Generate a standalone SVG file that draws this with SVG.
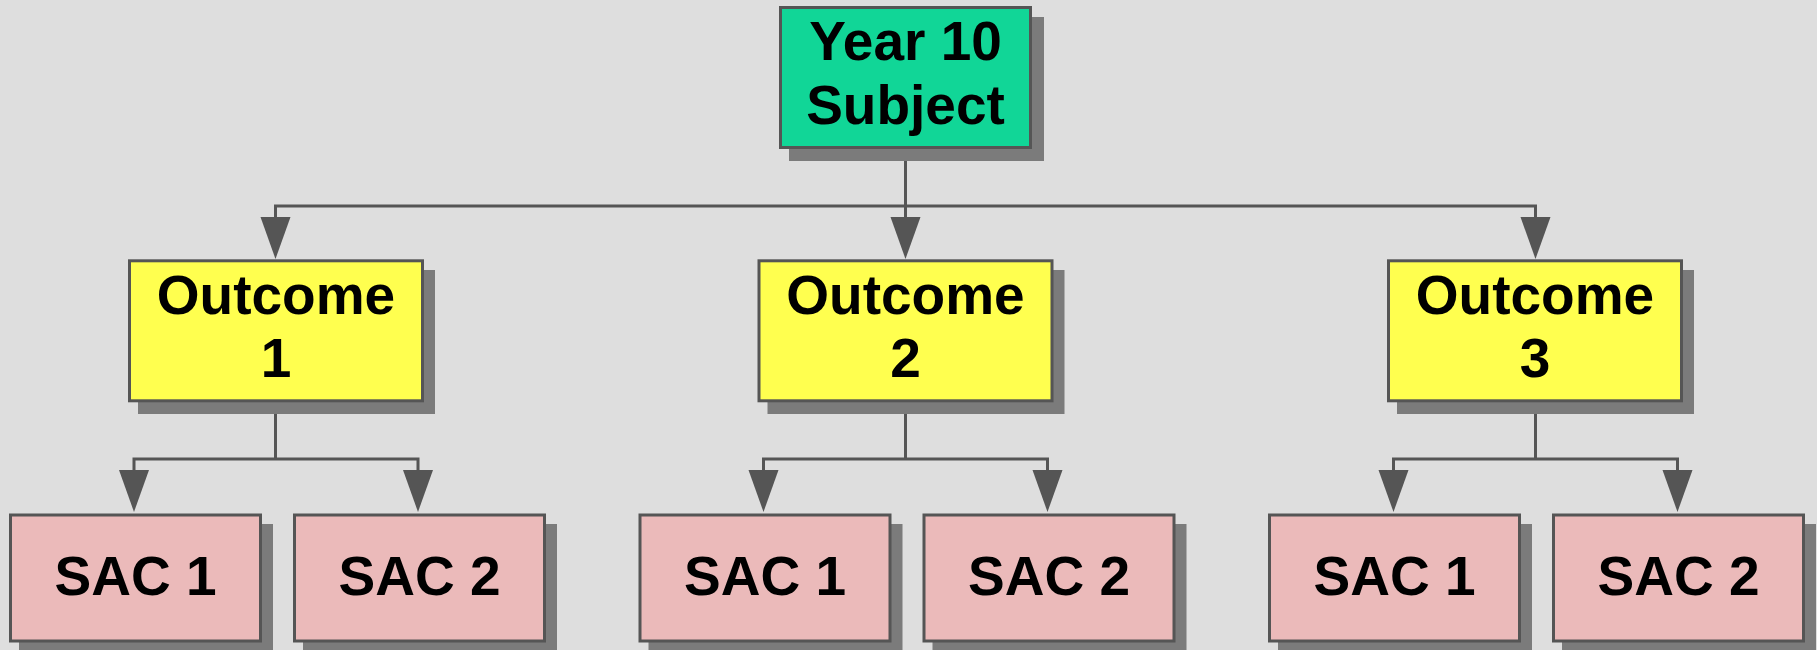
<svg xmlns="http://www.w3.org/2000/svg" width="1817" height="650" viewBox="0 0 1817 650">
<style>
.bg{fill:#dedede}
.sh{fill:#7b7b7b}
.box{stroke:#555555;stroke-width:3}
.top{fill:#11d697}
.out{fill:#ffff4f}
.sac{fill:#ebbaba}
.t{font-family:"Liberation Sans",Arial,sans-serif;font-weight:bold;font-size:55px;fill:#000;text-anchor:middle}
.ln{fill:none;stroke:#555555;stroke-width:3}
.ah{fill:#555555}
</style>
<rect class="bg" x="0" y="0" width="1817" height="650"/>
<g id="connectors">
  <path class="ln" d="M905.5 149 V217 M275.5 217 V206 H1535.5 V217"/>
  <polygon class="ah" points="260.5,217 290.5,217 275.5,259"/>
  <polygon class="ah" points="890.5,217 920.5,217 905.5,259"/>
  <polygon class="ah" points="1520.5,217 1550.5,217 1535.5,259"/>
  <path class="ln" d="M275.5 402 V459 M134 470 V459 H418 V470"/>
  <polygon class="ah" points="119,470 149,470 134,512"/>
  <polygon class="ah" points="403,470 433,470 418,512"/>
  <path class="ln" d="M905.5 402 V459 M763.5 470 V459 H1047.5 V470"/>
  <polygon class="ah" points="748.5,470 778.5,470 763.5,512"/>
  <polygon class="ah" points="1032.5,470 1062.5,470 1047.5,512"/>
  <path class="ln" d="M1535.5 402 V459 M1393.5 470 V459 H1677.5 V470"/>
  <polygon class="ah" points="1378.5,470 1408.5,470 1393.5,512"/>
  <polygon class="ah" points="1662.5,470 1692.5,470 1677.5,512"/>
</g>
<g id="year10">
  <rect class="sh" x="789" y="17" width="255" height="144"/>
  <rect class="box top" x="780.5" y="7.5" width="250" height="140"/>
  <text class="t" x="905.5" y="60">Year 10</text>
  <text class="t" x="905.5" y="124">Subject</text>
</g>
<g id="outcome1">
  <rect class="sh" x="138" y="270" width="297" height="144"/>
  <rect class="box out" x="129.5" y="260.8" width="293" height="140"/>
  <text class="t" x="276" y="313.5">Outcome</text>
  <text class="t" x="276" y="377">1</text>
</g>
<g id="outcome2">
  <rect class="sh" x="767.5" y="270" width="297" height="144"/>
  <rect class="box out" x="759" y="260.8" width="293" height="140"/>
  <text class="t" x="905.5" y="313.5">Outcome</text>
  <text class="t" x="905.5" y="377">2</text>
</g>
<g id="outcome3">
  <rect class="sh" x="1397" y="270" width="297" height="144"/>
  <rect class="box out" x="1388.5" y="260.8" width="293" height="140"/>
  <text class="t" x="1535" y="313.5">Outcome</text>
  <text class="t" x="1535" y="377">3</text>
</g>
<g id="o1sac1">
  <rect class="sh" x="19" y="524" width="254" height="130"/>
  <rect class="box sac" x="10.5" y="515" width="250" height="126"/>
  <text class="t" x="135.5" y="594.5">SAC 1</text>
</g>
<g id="o1sac2">
  <rect class="sh" x="303" y="524" width="254" height="130"/>
  <rect class="box sac" x="294.5" y="515" width="250" height="126"/>
  <text class="t" x="419.5" y="594.5">SAC 2</text>
</g>
<g id="o2sac1">
  <rect class="sh" x="648.5" y="524" width="254" height="130"/>
  <rect class="box sac" x="640" y="515" width="250" height="126"/>
  <text class="t" x="765" y="594.5">SAC 1</text>
</g>
<g id="o2sac2">
  <rect class="sh" x="932.5" y="524" width="254" height="130"/>
  <rect class="box sac" x="924" y="515" width="250" height="126"/>
  <text class="t" x="1049" y="594.5">SAC 2</text>
</g>
<g id="o3sac1">
  <rect class="sh" x="1278" y="524" width="254" height="130"/>
  <rect class="box sac" x="1269.5" y="515" width="250" height="126"/>
  <text class="t" x="1394.5" y="594.5">SAC 1</text>
</g>
<g id="o3sac2">
  <rect class="sh" x="1562" y="524" width="254" height="130"/>
  <rect class="box sac" x="1553.5" y="515" width="250" height="126"/>
  <text class="t" x="1678.5" y="594.5">SAC 2</text>
</g>
</svg>
